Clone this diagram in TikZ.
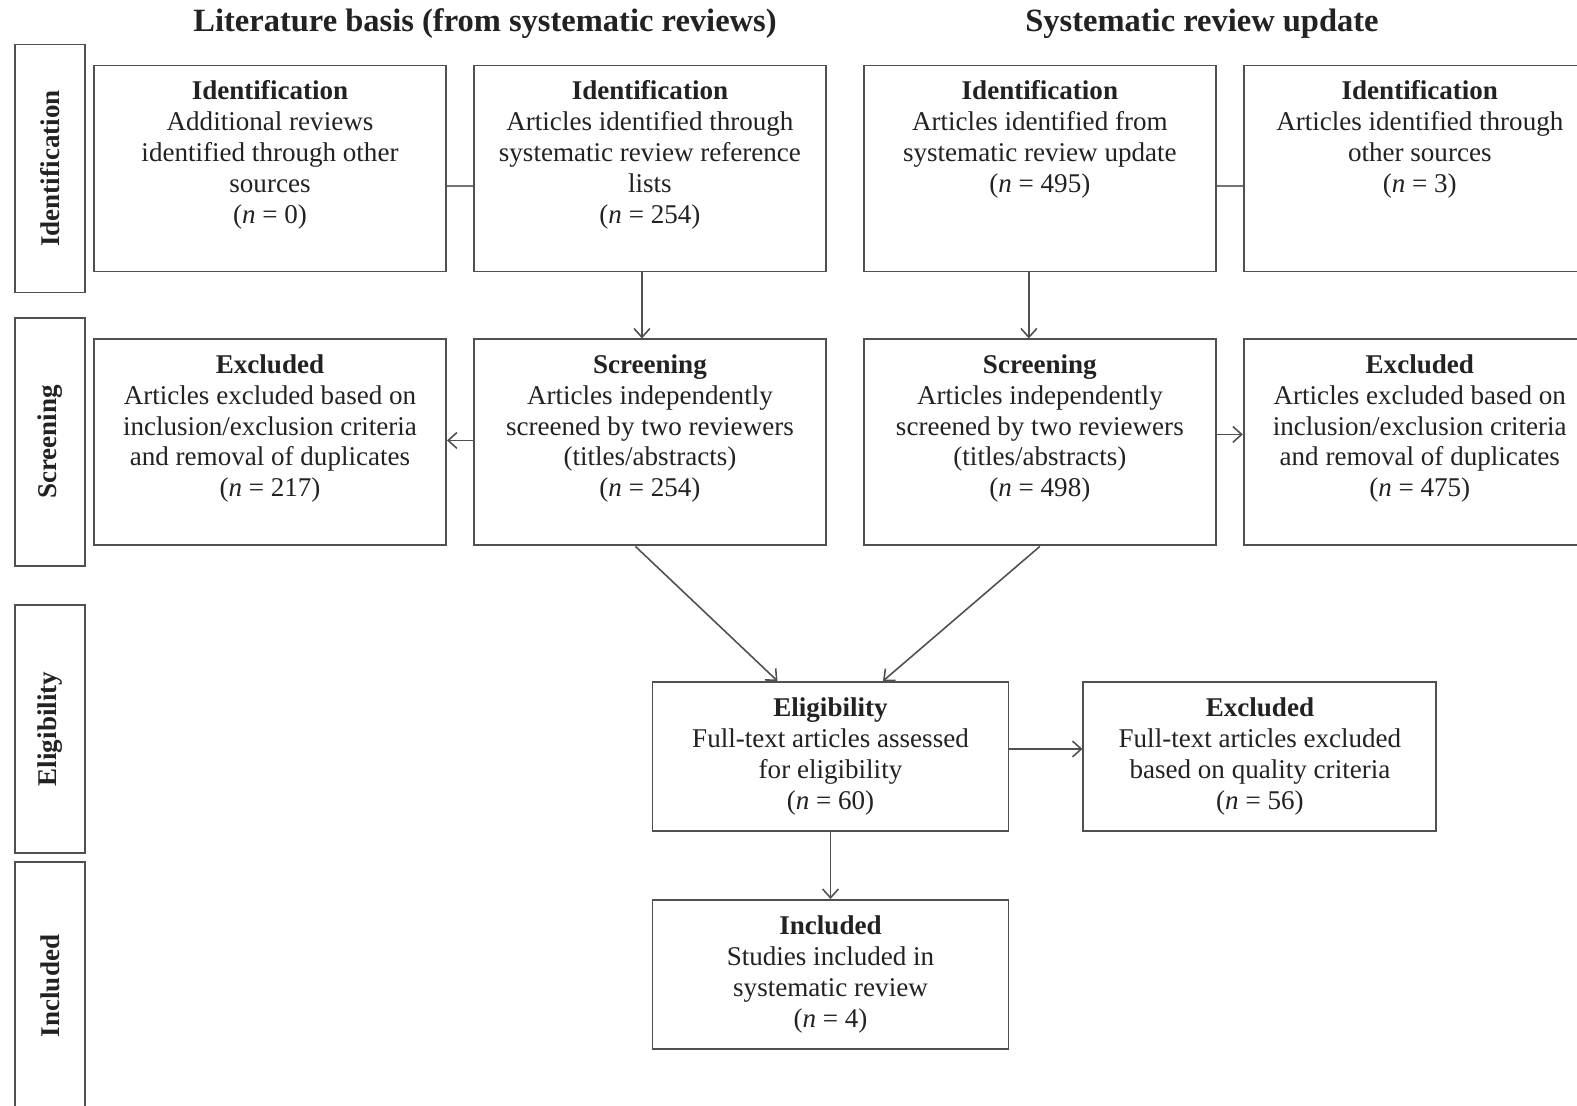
\documentclass[tikz,border=0pt]{standalone}
\usepackage{fontspec}
\setmainfont{Liberation Serif}
\usepackage{xcolor}
\usetikzlibrary{positioning,arrows.meta}
\definecolor{BoxGray}{HTML}{505050}
\definecolor{InkGray}{HTML}{222222}
\newcommand{\toptext}[1]{\parbox[c][4.12cm][t]{6.9cm}{\centering\vspace*{8.5pt}#1}}

\begin{document}
\begin{tikzpicture}[node distance=1.32cm,
    >={Straight Barb[length=5pt,width=9pt]},
    topbox/.style={draw=BoxGray, line width=1.1pt, fill=white, minimum width=7.04cm, minimum height=4.12cm, inner sep=0pt, text=InkGray, font=\fontsize{15.4}{17.6}\selectfont},
    lowbox/.style={draw=BoxGray, line width=1.1pt, fill=white, minimum width=7.12cm, minimum height=2.98cm, inner sep=0pt, align=center, text=InkGray, font=\fontsize{15.4}{17.6}\selectfont},
    phase/.style={draw=BoxGray, line width=1.1pt, minimum width=4.96cm, minimum height=1.4cm, rotate=90, text=InkGray, font=\bfseries\fontsize{15.4}{17}\selectfont},
    head/.style={text=InkGray, font=\bfseries\fontsize{18.5}{22}\selectfont},
    flow/.style={->, draw=BoxGray, line width=0.9pt},
    link/.style={draw=BoxGray!80, line width=1.5pt}]
        \useasboundingbox (0,0) rectangle (31.54,-22.12);

        \node[head] (hlit) at (9.70,-0.48) {Literature basis (from systematic reviews)};
        \node[head] (hupd) at (24.04,-0.48) {Systematic review update};

        \node[phase] (pid) at (1.00,-3.37) {Identification};
        \node[phase] (pscr) at (1.00,-8.84) {Screening};
        \node[phase] (pelig) at (1.00,-14.58) {Eligibility};
        \node[phase] (pinc) at (1.00,-19.72) {Included};

        \node[topbox] (a1) at (5.40,-3.37) {\toptext{\textbf{Identification}\\Additional reviews\\identified through other\\sources\\(\textit{n} = 0)}};
        \node[topbox, right=0.52cm of a1] (a2) {\toptext{\textbf{Identification}\\Articles identified through\\systematic review reference\\lists\\(\textit{n} = 254)}};
        \node[topbox, right=0.72cm of a2] (a3) {\toptext{\textbf{Identification}\\Articles identified from\\systematic review update\\(\textit{n} = 495)}};
        \node[topbox, right=0.52cm of a3] (a4) {\toptext{\textbf{Identification}\\Articles identified through\\other sources\\(\textit{n} = 3)}};

        \node[topbox, below=of a1] (b1) {\toptext{\textbf{Excluded}\\Articles excluded based on\\inclusion/exclusion criteria\\and removal of duplicates\\(\textit{n} = 217)}};
        \node[topbox, below=of a2] (b2) {\toptext{\textbf{Screening}\\Articles independently\\screened by two reviewers\\(titles/abstracts)\\(\textit{n} = 254)}};
        \node[topbox, below=of a3] (b3) {\toptext{\textbf{Screening}\\Articles independently\\screened by two reviewers\\(titles/abstracts)\\(\textit{n} = 498)}};
        \node[topbox, below=of a4] (b4) {\toptext{\textbf{Excluded}\\Articles excluded based on\\inclusion/exclusion criteria\\and removal of duplicates\\(\textit{n} = 475)}};

        \node[lowbox] (c1) at (16.61,-15.13) {\textbf{Eligibility}\\Full-text articles assessed\\for eligibility\\(\textit{n} = 60)};
        \node[lowbox, minimum width=7.06cm, right=1.46cm of c1] (c2) {\textbf{Excluded}\\Full-text articles excluded\\based on quality criteria\\(\textit{n} = 56)};
        \node[lowbox, below=1.34cm of c1] (d) {\textbf{Included}\\Studies included in\\systematic review\\(\textit{n} = 4)};

        \draw[link] ([yshift=-0.35cm]a1.east) -- ([yshift=-0.35cm]a2.west);
        \draw[link] ([yshift=-0.35cm]a3.east) -- ([yshift=-0.35cm]a4.west);
        \draw[flow] ([xshift=-0.16cm]a2.south) -- ([xshift=-0.16cm]b2.north);
        \draw[flow] ([xshift=-0.22cm]a3.south) -- ([xshift=-0.22cm]b3.north);
        \draw[flow] ([yshift=0.04cm]b2.west) -- ([yshift=0.04cm]b1.east);
        \draw[flow] ([yshift=0.16cm]b3.east) -- ([yshift=0.16cm]b4.west);
        \draw[flow] ([xshift=-0.29cm]b2.south) -- ([xshift=-1.06cm]c1.north);
        \draw[flow] (b3.south) -- ([xshift=1.05cm]c1.north);
        \draw[flow] ([yshift=0.15cm]c1.east) -- ([yshift=0.15cm]c2.west);
        \draw[flow] (c1.south) -- (d.north);
      \end{tikzpicture}
\end{document}
